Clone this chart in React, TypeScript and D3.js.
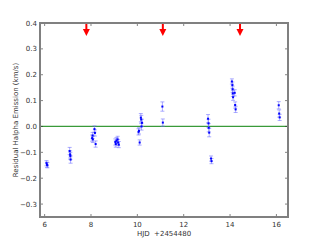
import React from "react";
import * as d3 from "d3";

// observation epochs (HJD - 2454480) and residual H-alpha emission
const hjd = [
  6.08, 6.1, 6.12,
  7.08, 7.1, 7.11, 7.12,
  8.05, 8.07, 8.08, 8.15, 8.17, 8.2,
  9.05, 9.07, 9.1, 9.15, 9.17, 9.2,
  10.05, 10.07, 10.1, 10.15, 10.17, 10.18, 10.2,
  11.08, 11.1,
  13.05, 13.07, 13.08, 13.1, 13.18, 13.2,
  14.08, 14.1, 14.11, 14.12, 14.13, 14.2, 14.22, 14.24,
  16.1, 16.12, 16.14,
];
const resid = [
  -0.142, -0.148, -0.15,
  -0.095, -0.108, -0.114, -0.128,
  -0.045, -0.035, -0.05, -0.01, -0.025, -0.068,
  -0.06, -0.068, -0.055, -0.05, -0.062, -0.07,
  -0.021, -0.017, -0.062, 0.034, 0.027, 0.0, 0.014,
  0.077, 0.015,
  0.03, 0.012, -0.005, -0.024, -0.124, -0.134,
  0.174, 0.16, 0.144, 0.128, 0.113, 0.13, 0.083, 0.066,
  0.082, 0.05, 0.035,
];
const errs = [
  0.01, 0.01, 0.01,
  0.014, 0.014, 0.014, 0.014,
  0.012, 0.012, 0.012, 0.012, 0.012, 0.012,
  0.012, 0.012, 0.012, 0.012, 0.012, 0.012,
  0.012, 0.012, 0.01, 0.016, 0.016, 0.014, 0.014,
  0.018, 0.014,
  0.016, 0.016, 0.016, 0.016, 0.01, 0.01,
  0.01, 0.012, 0.012, 0.012, 0.012, 0.012, 0.012, 0.012,
  0.014, 0.014, 0.012,
];
const arrowEpochs = [7.8, 11.1, 14.43];
const xTicks = [6, 8, 10, 12, 14, 16];
const yTicks = [0.4, 0.3, 0.2, 0.1, 0.0, -0.1, -0.2, -0.3];

const W = 320;
const H = 240;
const m = { left: 40, right: 32, top: 23, bottom: 23 };
const font = "DejaVu Sans, sans-serif";

export default function App() {
  const x = d3.scaleLinear().domain([5.8, 16.5]).range([m.left, W - m.right]);
  const y = d3.scaleLinear().domain([-0.35, 0.4]).range([H - m.bottom, m.top]);
  const x0 = m.left, x1 = W - m.right, y0 = m.top, y1 = H - m.bottom;

  return (
    <svg width={W} height={H} style={{ position: "absolute", left: 0, top: 0 }}>
      <rect width={W} height={H} fill="#fff" />
      {/* zero line */}
      <line x1={x0} x2={x1} y1={y(0)} y2={y(0)} stroke="#3a9a3a" strokeWidth={1.2} />
      {/* error bars */}
      {hjd.map((d, i) => (
        <g key={"e" + i} stroke="#6a6aff" strokeOpacity={0.55} strokeWidth={1}>
          <line x1={x(d)} x2={x(d)} y1={y(resid[i] - errs[i])} y2={y(resid[i] + errs[i])} />
          <line x1={x(d) - 2} x2={x(d) + 2} y1={y(resid[i] - errs[i])} y2={y(resid[i] - errs[i])} />
          <line x1={x(d) - 2} x2={x(d) + 2} y1={y(resid[i] + errs[i])} y2={y(resid[i] + errs[i])} />
        </g>
      ))}
      {hjd.map((d, i) => (
        <rect key={"p" + i} x={x(d) - 1} y={y(resid[i]) - 1} width={2} height={2} fill="#0000ff" />
      ))}
      {/* arrows */}
      {arrowEpochs.map((d, i) => (
        <g key={"a" + i} fill="#ff0000" stroke="none">
          <rect x={x(d) - 1} y={y0} width={2} height={7} />
          <path d={`M${x(d) - 3.5},${y0 + 6}L${x(d) + 3.5},${y0 + 6}L${x(d)},${y0 + 13}Z`} />
        </g>
      ))}
      {/* ticks */}
      {xTicks.map((t) => (
        <g key={"x" + t}>
          <line x1={x(t)} x2={x(t)} y1={y1} y2={y1 - 3} stroke="#333" strokeWidth={0.6} />
          <line x1={x(t)} x2={x(t)} y1={y0} y2={y0 + 3} stroke="#333" strokeWidth={0.6} />
          <text x={x(t)} y={y1 + 10} textAnchor="middle" fontSize={7} fontFamily={font} fill="#333">
            {t}
          </text>
        </g>
      ))}
      {yTicks.map((t) => (
        <g key={"y" + t}>
          <line x1={x0} x2={x0 + 3} y1={y(t)} y2={y(t)} stroke="#333" strokeWidth={0.6} />
          <line x1={x1} x2={x1 - 3} y1={y(t)} y2={y(t)} stroke="#333" strokeWidth={0.6} />
          <text x={x0 - 3} y={y(t) + 2.5} textAnchor="end" fontSize={7} fontFamily={font} fill="#333">
            {d3.format(".1f")(t)}
          </text>
        </g>
      ))}
      <rect x={x0} y={y0} width={x1 - x0} height={y1 - y0} fill="none" stroke="#808080" strokeWidth={2} />
      <text x={(x0 + x1) / 2} y={H - 4} textAnchor="middle" fontSize={7} fontFamily={font} fill="#333">
        {"HJD\u00a0\u00a0+2454480"}
      </text>
      <text
        transform={`translate(18,${(y0 + y1) / 2}) rotate(-90)`}
        textAnchor="middle"
        fontSize={7}
        fontFamily={font}
        fill="#333"
      >
        Residual Halpha Emission (km/s)
      </text>
    </svg>
  );
}
